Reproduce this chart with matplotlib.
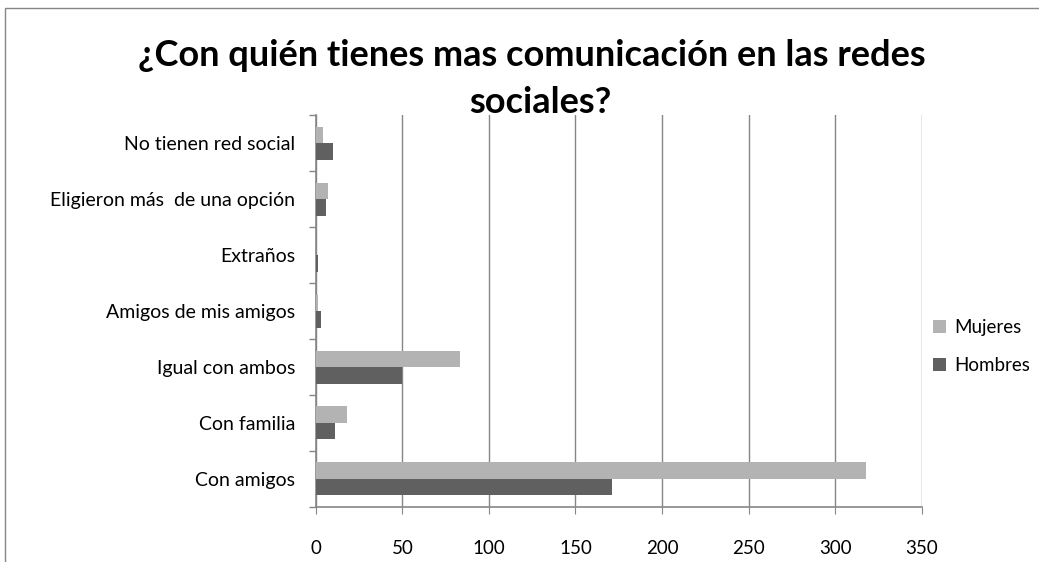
import numpy as np
import matplotlib.pyplot as plt
from matplotlib.patches import Rectangle

plt.rcParams['font.family'] = ['Lato', 'DejaVu Sans']

# Datos
categorias = ['Con amigos', 'Con familia', 'Igual con ambos', 'Amigos de mis amigos',
              'Extraños', 'Eligieron más  de una opción', 'No tienen red social']
mujeres = [318, 18, 83, 1, 0, 7, 4]
hombres = [171, 11, 50, 3, 1, 6, 10]
ticks_x = [0, 50, 100, 150, 200, 250, 300, 350]

fig = plt.figure(figsize=(10.39, 5.62), dpi=100)
ax = fig.add_axes([0.304, 0.098, 0.583, 0.697])

y = np.arange(len(categorias))
h = 0.295
ax.barh(y + h / 2, mujeres, height=h, color='#b3b3b3', label='Mujeres', zorder=3)
ax.barh(y - h / 2, hombres, height=h, color='#606060', label='Hombres', zorder=3)

ax.set_xlim(0, 350)
ax.set_ylim(-0.5, len(categorias) - 0.5)
ax.set_xticks(ticks_x)
ax.set_yticks(y)
ax.set_yticklabels(categorias)
ax.set_yticks(np.arange(-0.5, len(categorias)), minor=True)
ax.tick_params(axis='y', which='major', length=0, pad=15, labelsize=14)
ax.tick_params(axis='y', which='minor', length=5, color='#868686', width=1)
ax.tick_params(axis='x', length=5, color='#868686', pad=19, labelsize=13.5)
ax.xaxis.grid(True, color='#868686', linewidth=1)
ax.set_axisbelow(True)
for s in ['top', 'right']:
    ax.spines[s].set_visible(False)
for s in ['left', 'bottom']:
    ax.spines[s].set_color('#868686')
    ax.spines[s].set_linewidth(1.2)

fig.text(0.512, 0.902, '¿Con quién tienes mas comunicación en las redes',
         ha='center', va='center', fontsize=26, fontweight='bold')
fig.text(0.52, 0.818, 'sociales?', ha='center', va='center', fontsize=26, fontweight='bold')

ax.legend(loc='center left', bbox_to_anchor=(1.0, 0.41), frameon=False,
          fontsize=13.5, handlelength=0.7, handleheight=0.7, labelspacing=1.1,
          handletextpad=0.45, borderaxespad=0.2)

# Marco del gráfico
fig.add_artist(Rectangle((0.005, -0.1), 1.1, 1.086, transform=fig.transFigure,
                         fill=False, edgecolor='#868686', linewidth=1))

fig.savefig('out.png', dpi=100)
